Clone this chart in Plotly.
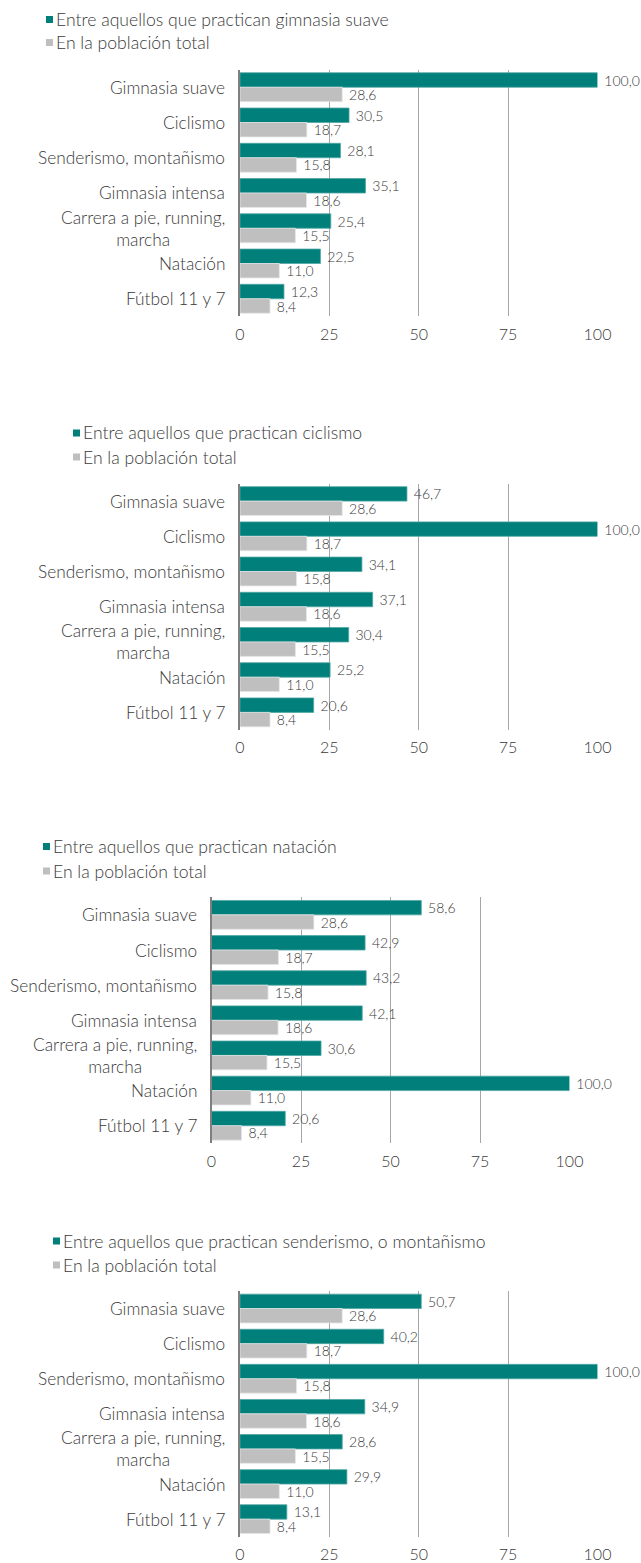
import plotly.graph_objects as go

# ---------------- data ----------------
categories = [
    "Gimnasia suave",
    "Ciclismo",
    "Senderismo, montañismo",
    "Gimnasia intensa",
    "Carrera a pie, running,<br>marcha",
    "Natación",
    "Fútbol 11 y 7",
]
poblacion_total = [28.6, 18.7, 15.8, 18.6, 15.5, 11.0, 8.4]
gimnasia_suave = [100.0, 30.5, 28.1, 35.1, 25.4, 22.5, 12.3]
ciclismo = [46.7, 100.0, 34.1, 37.1, 30.4, 25.2, 20.6]
natacion = [58.6, 42.9, 43.2, 42.1, 30.6, 100.0, 20.6]
senderismo = [50.7, 40.2, 100.0, 34.9, 28.6, 29.9, 13.1]

practice_names = [
    "Entre aquellos que practican gimnasia suave",
    "Entre aquellos que practican ciclismo",
    "Entre aquellos que practican natación",
    "Entre aquellos que practican senderismo, o montañismo",
]
total_name = "En la población total"
x_ticks = [0, 25, 50, 75, 100]
practice_series = [gimnasia_suave, ciclismo, natacion, senderismo]

# ---------------- layout constants (pixels) ----------------
W, H = 641, 1563
TEAL = "#007F7B"
GRAY = "#BFBFBF"
TXT = "#3A3A3A"
FONT = "Lato"
WEIGHT = 300

panels = [
    dict(top=69.6, bot=316.4, x0=240.0, x1=597.5, sq=46.0, l1=19.5, l2=42.5),
    dict(top=483.5, bot=730.0, x0=240.0, x1=597.5, sq=73.0, l1=433.0, l2=457.0),
    dict(top=897.3, bot=1143.3, x0=211.5, x1=569.5, sq=43.0, l1=846.5, l2=871.0),
    dict(top=1291.0, bot=1536.7, x0=240.0, x1=597.5, sq=53.0, l1=1241.0, l2=1265.0),
]


def px(x):
    return x / W


def py(y):
    return 1 - y / H


def fnt(size):
    return dict(family=FONT, size=size, color=TXT, weight=WEIGHT)


fig = go.Figure()
shapes = []
annotations = []
layout_axes = {}

for i, (p, vals, name) in enumerate(zip(panels, practice_series, practice_names)):
    n = i + 1
    xa = "x" if n == 1 else f"x{n}"
    ya = "y" if n == 1 else f"y{n}"
    for series, sname, color, lcolor in [
        (vals, name, TEAL, "#4FA7A3"),
        (poblacion_total, total_name, GRAY, "#E6E6E6"),
    ]:
        fig.add_trace(
            go.Bar(
                x=series,
                y=categories,
                name=sname,
                orientation="h",
                marker=dict(color=color, line=dict(color=lcolor, width=0.8)),
                texttemplate="\u00a0%{x:.1f}",
                textposition="outside",
                textfont=fnt(14),
                outsidetextfont=fnt(14),
                constraintext="none",
                cliponaxis=False,
                showlegend=False,
                xaxis=xa,
                yaxis=ya,
                hoverinfo="x+y+name",
            )
        )
    sfx = "" if n == 1 else str(n)
    layout_axes["xaxis" + sfx] = dict(
        domain=[px(p["x0"]), px(p["x1"])],
        range=[0, 100],
        tickvals=x_ticks,
        ticktext=[str(t) for t in x_ticks],
        showgrid=True,
        gridcolor="#A6A6A6",
        gridwidth=1,
        zeroline=False,
        showline=False,
        ticks="outside",
        ticklen=3,
        tickcolor="rgba(0,0,0,0)",
        tickfont=fnt(16),
        anchor=ya,
        automargin=False,
        fixedrange=True,
    )
    layout_axes["yaxis" + sfx] = dict(
        domain=[py(p["bot"]), py(p["top"])],
        type="category",
        autorange="reversed",
        showticklabels=False,
        showline=True,
        linecolor="#7F7F7F",
        linewidth=2,
        showgrid=False,
        zeroline=False,
        ticks="",
        anchor=xa,
        automargin=False,
        fixedrange=True,
    )
    # category labels
    for c in categories:
        annotations.append(
            dict(
                x=px(p["x0"] - 13),
                xref="paper",
                y=c,
                yref=ya,
                text=c,
                showarrow=False,
                xanchor="right",
                yanchor="middle",
                align="center",
                font=fnt(17.3),
            )
        )
    # legend
    for cy, lbl, color in [(p["l1"], name, TEAL), (p["l2"], total_name, GRAY)]:
        shapes.append(
            dict(
                type="rect",
                xref="paper",
                yref="paper",
                x0=px(p["sq"]),
                x1=px(p["sq"] + 7),
                y0=py(cy + 3.5),
                y1=py(cy - 3.5),
                fillcolor=color,
                line=dict(width=0),
            )
        )
        annotations.append(
            dict(
                x=px(p["sq"] + 7.5),
                xref="paper",
                y=py(cy),
                yref="paper",
                text=lbl,
                showarrow=False,
                xanchor="left",
                yanchor="middle",
                font=fnt(17.6),
            )
        )

fig.update_layout(
    template="none",
    width=W,
    height=H,
    autosize=False,
    margin=dict(l=0, r=0, t=0, b=0, pad=0, autoexpand=False),
    paper_bgcolor="white",
    plot_bgcolor="white",
    barmode="group",
    bargap=0.18,
    bargroupgap=0,
    separators=",.",
    font=fnt(16),
    shapes=shapes,
    annotations=annotations,
    showlegend=False,
    **layout_axes,
)

fig.write_html(
    "out.html",
    config={"displayModeBar": False, "responsive": False},
    post_script="document.body.style.margin='0';document.body.style.overflow='hidden';",
)
